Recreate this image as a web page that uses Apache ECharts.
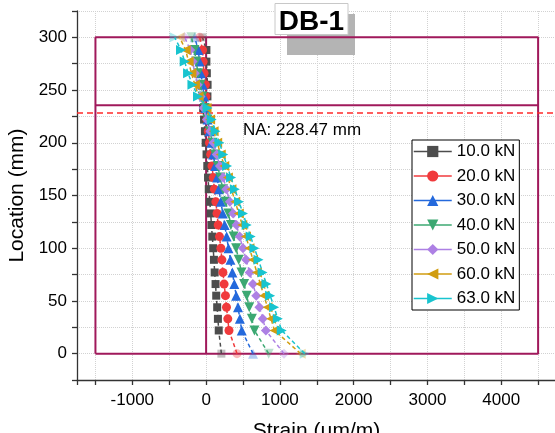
<!DOCTYPE html>
<html><head><meta charset="utf-8">
<script src="https://cdn.jsdelivr.net/npm/echarts@6/dist/echarts.min.js"></script>
<style>html,body{margin:0;padding:0;background:#fff}#c{width:555px;height:433px}</style>
</head><body><div id="c"></div>
<script>
// ---- data ----
const locations = [0,22,33,44,55,66,77,89,100,111,122,133,144,156,167,178,189,200,211,222,233,244,255,266,277,288,300];
const seriesNames = ['10.0 kN','20.0 kN','30.0 kN','40.0 kN','50.0 kN','60.0 kN','63.0 kN'];
const strain10 = [207,171,160,150,137,128,116,106,96,84,72,62,50,36,26,16,6,-6,-16,-28,-40,18,20,10,4,4,-50];
const strain20 = [419,310,294,276,262,244,228,214,200,181,164,148,132,112,97,80,62,45,30,12,-18,-3,-10,-28,-40,-48,-87];
const strain30 = [636,483,458,432,408,382,356,330,303,278,252,226,200,172,150,122,96,72,46,20,-8,-28,-46,-72,-90,-106,-155];
const strain40 = [848,655,620,585,550,515,480,442,407,372,336,302,265,229,192,157,122,88,52,18,-18,-50,-78,-110,-134,-158,-199];
const strain50 = [1056,810,768,722,680,634,590,543,500,455,412,366,322,275,232,187,143,100,56,10,-34,-76,-114,-153,-184,-216,-290];
const strain60 = [1282,927,880,832,784,735,688,636,587,540,490,443,395,343,295,246,198,150,102,54,6,-103,-152,-199,-237,-278,-358];
const strain63 = [1336,1025,972,922,868,818,765,710,655,604,550,500,445,390,338,284,232,180,128,76,20,-110,-185,-245,-290,-340,-426];
const xTickLabels = [-1000,0,1000,2000,3000,4000];
const yTickLabels = [0,50,100,150,200,250,300];
const beamStrainEdges = [-1500, 4500];
const beamDepthEdges = [0, 300];
const flangeDepth = 235.5;
const zeroStrain = 0;
const naDepth = 228.47;
const chartTitle = 'DB-1';
const naText = 'NA: 228.47 mm';

// ---- styling ----
const FONT = '"Liberation Sans", Arial, sans-serif';
const colors = ['#4d4d4d','#f03a3c','#2469dc','#3ca872','#ad80e4','#d19d10','#18c4cf'];
const symbols = ['rect','circle','triangle','path://M0,0L10,0L5,10Z','diamond','path://M10,0L10,10L0,5Z','path://M0,0L0,10L10,5Z'];
const symbolSizes = [8,9,10,10,10,10,10];
const strainSets = [strain10,strain20,strain30,strain40,strain50,strain60,strain63];
const frameColor = '#a0195b';

const dataSeries = strainSets.map((arr, i) => ({
  name: seriesNames[i],
  type: 'line',
  data: arr.map((x, j) => {
    const p = [x, locations[j]];
    return (j === 0 || j === arr.length - 1) ? { value: p, itemStyle: { opacity: 0.35 } } : p;
  }),
  symbol: symbols[i],
  symbolSize: symbolSizes[i],
  symbolKeepAspect: true,
  showAllSymbol: true,
  lineStyle: { type: [4, 3], width: 1.5, color: colors[i] },
  itemStyle: { color: colors[i] },
  emphasis: { disabled: true },
  z: 3 + i
}));

const frameLine = { color: frameColor, width: 2 };
const frameSeries = [
  {
    type: 'line', silent: true, symbol: 'none', z: 2, lineStyle: frameLine,
    data: [[beamStrainEdges[0], beamDepthEdges[0]], [beamStrainEdges[1], beamDepthEdges[0]],
           [beamStrainEdges[1], beamDepthEdges[1]], [beamStrainEdges[0], beamDepthEdges[1]],
           [beamStrainEdges[0], beamDepthEdges[0]]],
    markLine: {
      silent: true, symbol: 'none', label: { show: false },
      lineStyle: { color: '#ff2b2b', type: [6, 4], width: 1.5 },
      data: [{ yAxis: naDepth }]
    }
  },
  { type: 'line', silent: true, symbol: 'none', z: 2, lineStyle: frameLine,
    data: [[beamStrainEdges[0], flangeDepth], [beamStrainEdges[1], flangeDepth]] },
  { type: 'line', silent: true, symbol: 'none', z: 2, lineStyle: frameLine,
    data: [[zeroStrain, beamDepthEdges[0]], [zeroStrain, beamDepthEdges[1]]] }
];

const axisLineStyle = { color: '#333', width: 1.3 };
const gridLineStyle = { type: 'dotted', color: '#d2d2d2', width: 1 };

const chart = echarts.init(document.getElementById('c'), null, { renderer: 'canvas' });
chart.setOption({
  animation: false,
  backgroundColor: '#fff',
  textStyle: { fontFamily: FONT },
  grid: { left: 77, top: 11, right: -20, bottom: 53, containLabel: false, outerBoundsMode: 'none' },
  xAxis: {
    type: 'value', min: -1750, max: 5000, minInterval: 500, maxInterval: 500,
    name: 'Strain (µm/m)', nameLocation: 'middle', nameGap: 41,
    nameTextStyle: { fontSize: 21, color: '#000', fontFamily: FONT, padding: [0, 19, 0, 0] },
    axisLine: { show: true, onZero: false, lineStyle: axisLineStyle },
    axisTick: { show: true, length: 5, lineStyle: axisLineStyle },
    axisLabel: { fontSize: 17, color: '#000', margin: 12, fontFamily: FONT,
      formatter: v => xTickLabels.includes(v) ? String(v) : '' },
    splitLine: { show: true, lineStyle: gridLineStyle }
  },
  yAxis: {
    type: 'value', min: -25, max: 325, interval: 25,
    name: 'Location (mm)', nameLocation: 'middle', nameGap: 43,
    nameTextStyle: { fontSize: 21, color: '#000', fontFamily: FONT },
    axisLine: { show: true, onZero: false, lineStyle: axisLineStyle },
    axisTick: { show: true, length: 5, lineStyle: axisLineStyle },
    axisLabel: { fontSize: 17, color: '#000', margin: 10, fontFamily: FONT,
      formatter: v => yTickLabels.includes(v) ? String(v) : '' },
    splitLine: { show: true, lineStyle: gridLineStyle }
  },
  legend: {
    data: seriesNames, orient: 'vertical', left: 412, top: 140,
    itemWidth: 38, itemHeight: 14, itemGap: 7.5,
    padding: [3, 4, 3, 1], borderColor: '#000', borderWidth: 1, backgroundColor: '#fff',
    textStyle: { fontSize: 17, color: '#000', fontFamily: FONT },
    lineStyle: { type: 'solid', width: 1.5 },
    selectedMode: false, z: 20
  },
  graphic: [
    { type: 'rect', z: 1, shape: { x: 287, y: 14, width: 68, height: 41 }, style: { fill: '#b4b4b4' } },
    { type: 'rect', z: 30, shape: { x: 275, y: 3.5, width: 73, height: 31 }, style: { fill: '#fff', stroke: '#c8c8c8', lineWidth: 1 } },
    { type: 'text', z: 31, x: 311.5, y: 22, style: { text: chartTitle, font: 'bold 28px ' + FONT, fill: '#000', textAlign: 'center', textVerticalAlign: 'middle' } },
    { type: 'text', z: 31, x: 243, y: 130, style: { text: naText, font: '17px ' + FONT, fill: '#000', textAlign: 'left', textVerticalAlign: 'middle' } }
  ],
  series: frameSeries.concat(dataSeries)
});
</script>
</body></html>
